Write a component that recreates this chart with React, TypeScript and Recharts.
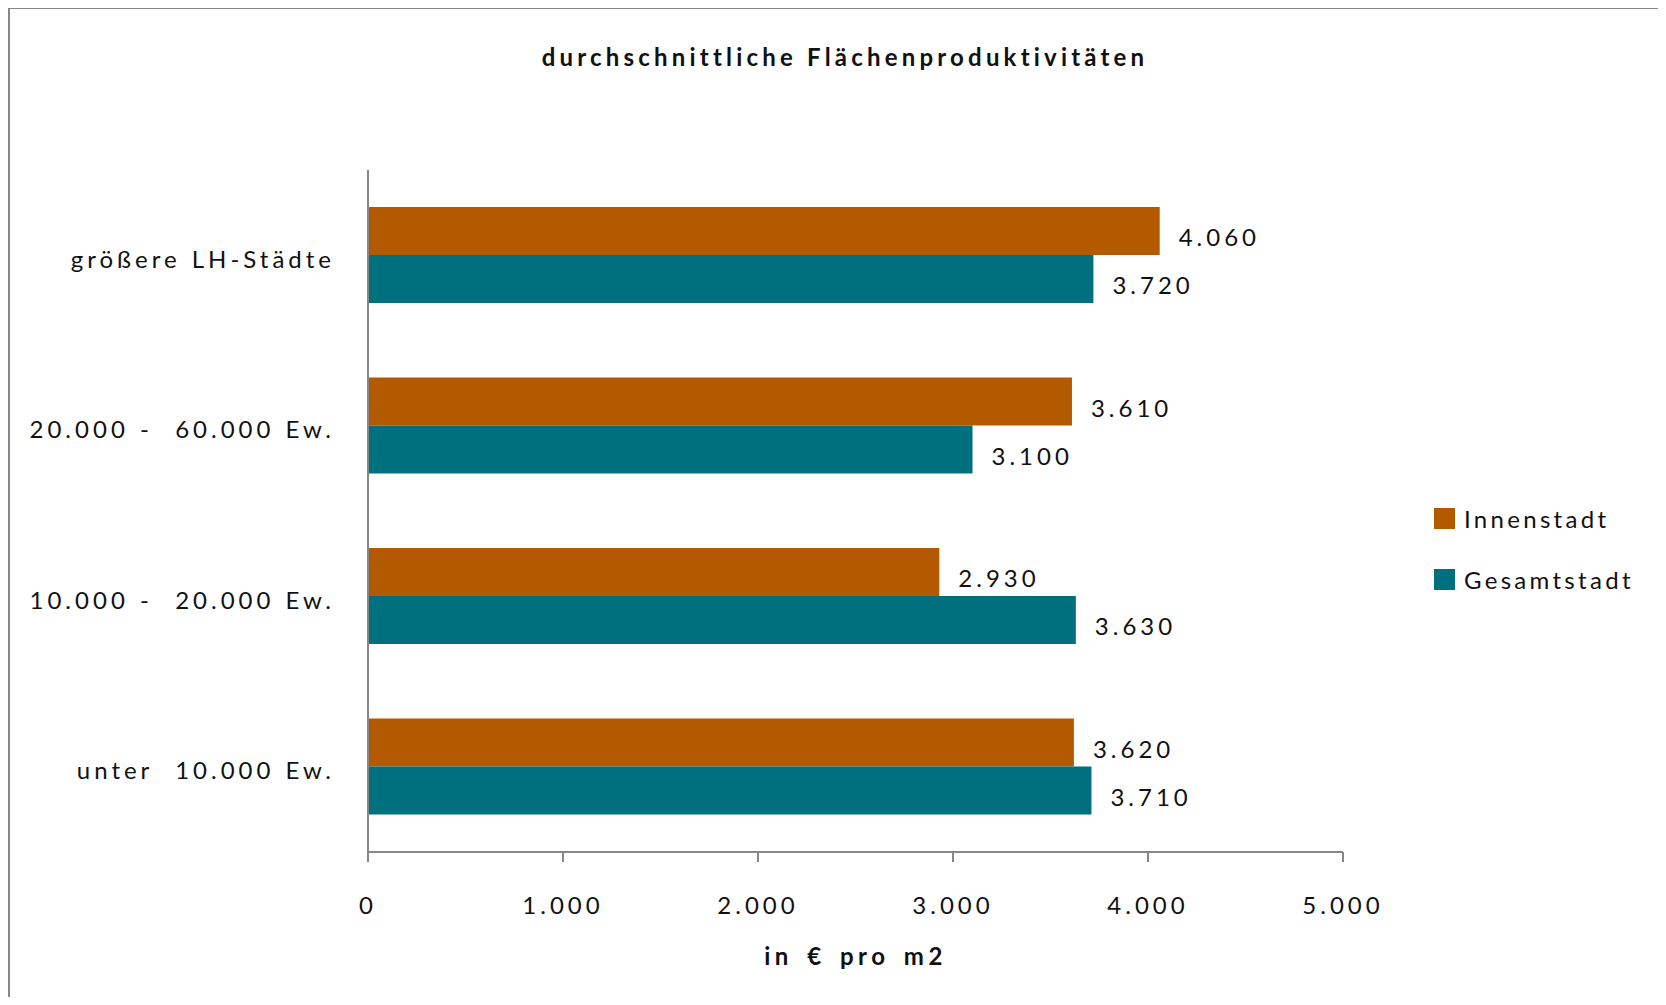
import React from 'react';
import { BarChart, Bar, XAxis, YAxis, LabelList, Legend } from 'recharts';

// categories top to bottom, as in the reference
const categories = [
  'größere LH-Städte',
  '20.000 -\u00A0 60.000 Ew.',
  '10.000 -\u00A0 20.000 Ew.',
  'unter\u00A0 10.000 Ew.',
];
const innenstadt = [4060, 3610, 2930, 3620];
const gesamtstadt = [3720, 3100, 3630, 3710];
const xTicks = [0, 1000, 2000, 3000, 4000, 5000];
const legendOrder = ['Innenstadt', 'Gesamtstadt'];

const ORANGE = '#B35900';
const TEAL = '#00707F';
const AXIS = '#878787';
const FONT = 'Lato, "DejaVu Sans", sans-serif';

const fmt = (v: number) =>
  v === 0 ? '0' : `${Math.floor(v / 1000)}.${String(v % 1000).padStart(3, '0')}`;

const data = categories.map((name, i) => ({
  name,
  innen: innenstadt[i],
  gesamt: gesamtstadt[i],
}));

const YTick = ({ x, y, payload }: any) => (
  <text
    x={x}
    y={y + 4}
    dy="0.35em"
    textAnchor="end"
    fontSize={24}
    fontFamily={FONT}
    letterSpacing={4}
    wordSpacing={1}
    fill="#111"
  >
    {payload.value}
  </text>
);

const XTick = ({ x, y, payload }: any) => (
  <text x={x} y={y} dy="0.71em" textAnchor="middle" fontSize={24} fontFamily={FONT} letterSpacing={4} fill="#111">
    {fmt(payload.value)}
  </text>
);

const ValueLabel = ({ x, y, width, height, value }: any) => (
  <text
    x={x + width + 19}
    y={y + height / 2 + 7}
    dy="0.35em"
    textAnchor="start"
    fontSize={24}
    fontFamily={FONT}
    letterSpacing={4}
    fill="#111"
  >
    {fmt(value)}
  </text>
);

const AxisTitle = ({ viewBox }: any) => (
  <text
    x={viewBox.x + viewBox.width / 2}
    y={viewBox.y + 113}
    textAnchor="middle"
    fontSize={24}
    fontWeight="bold"
    fontFamily={FONT}
    letterSpacing={4.5}
    wordSpacing={4}
    fill="#111"
  >
    in € pro m2
  </text>
);

const LegendBox = ({ payload }: any) => {
  const items = [...(payload || [])].sort(
    (a: any, b: any) => legendOrder.indexOf(a.value) - legendOrder.indexOf(b.value)
  );
  return (
    <div style={{ fontFamily: FONT }}>
      {items.map((p: any) => (
        <div key={p.value} style={{ display: 'flex', alignItems: 'center', height: 61 }}>
          <span style={{ width: 21, height: 21, background: p.color, display: 'inline-block' }} />
          <span style={{ marginLeft: 9, fontSize: 24, letterSpacing: 3.3, color: '#111' }}>{p.value}</span>
        </div>
      ))}
    </div>
  );
};

export default function App() {
  return (
    <div style={{ position: 'relative', width: 1650, height: 989, background: '#fff' }}>
      <div
        style={{
          position: 'absolute',
          left: 0,
          top: -1,
          width: 1670,
          height: 1000,
          borderLeft: `2px solid ${AXIS}`,
          borderTop: `2px solid ${AXIS}`,
          boxSizing: 'border-box',
          pointerEvents: 'none',
        }}
      />
      <div
        style={{
          position: 'absolute',
          left: 837,
          top: 34,
          transform: 'translateX(-50%)',
          fontFamily: FONT,
          fontWeight: 'bold',
          fontSize: 24,
          letterSpacing: 4.2,
          whiteSpace: 'nowrap',
          color: '#111',
        }}
      >
        durchschnittliche Flächenproduktivitäten
      </div>
      <BarChart
        width={1650}
        height={989}
        data={data}
        layout="vertical"
        margin={{ top: 162, right: 315, bottom: 45, left: 0 }}
        barGap={0}
      >
        <XAxis
          type="number"
          domain={[0, 5000]}
          ticks={xTicks}
          interval={0}
          height={100}
          stroke={AXIS}
          strokeWidth={2}
          tickSize={10}
          tickMargin={35}
          tick={<XTick />}
          label={<AxisTitle />}
        />
        <YAxis
          type="category"
          dataKey="name"
          width={360}
          stroke={AXIS}
          strokeWidth={2}
          tickLine={false}
          tickSize={0}
          tickMargin={33}
          tick={<YTick />}
        />
        <Legend
          layout="vertical"
          align="center"
          verticalAlign="middle"
          content={<LegendBox />}
          wrapperStyle={{ position: 'absolute', left: 1426, top: 480, width: 'auto', height: 'auto' }}
        />
        <Bar dataKey="innen" name="Innenstadt" fill={ORANGE} barSize={48} isAnimationActive={false}>
          <LabelList dataKey="innen" content={<ValueLabel />} />
        </Bar>
        <Bar dataKey="gesamt" name="Gesamtstadt" fill={TEAL} barSize={48} isAnimationActive={false}>
          <LabelList dataKey="gesamt" content={<ValueLabel />} />
        </Bar>
      </BarChart>
    </div>
  );
}
